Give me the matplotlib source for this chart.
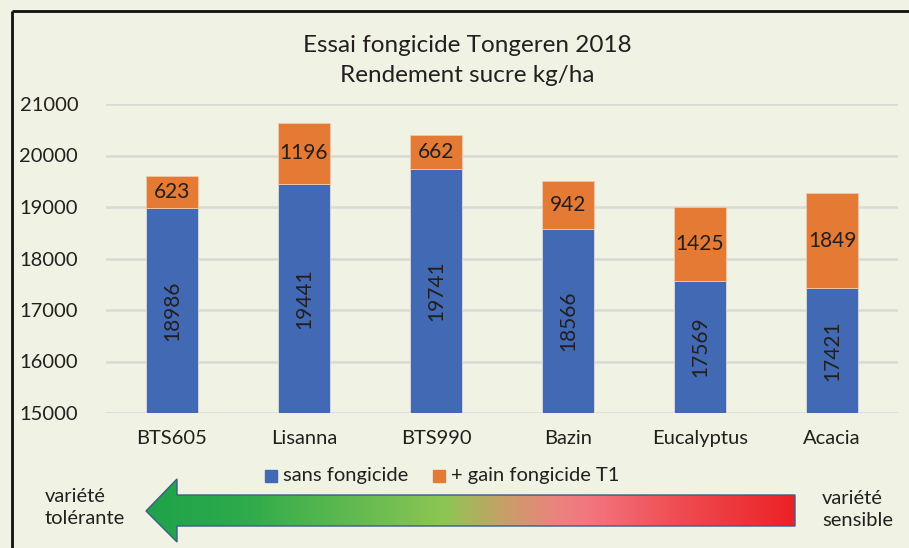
import matplotlib
matplotlib.use('Agg')
import matplotlib.pyplot as plt
import numpy as np
from matplotlib.colors import LinearSegmentedColormap
from matplotlib.patches import Polygon, Rectangle

plt.rcParams['font.family'] = ['Lato', 'DejaVu Sans']

# data
varietes = ['BTS605', 'Lisanna', 'BTS990', 'Bazin', 'Eucalyptus', 'Acacia']
sans_fongicide = [18986, 19441, 19741, 18566, 17569, 17421]
gain_t1 = [623, 1196, 662, 942, 1425, 1849]
yticks = [15000, 16000, 17000, 18000, 19000, 20000, 21000]

bg = '#F0F3E3'
blue = '#4169B4'
orange = '#E57A35'
txt = '#231F20'

W, H = 909, 548
fig = plt.figure(figsize=(W / 100, H / 100), dpi=100, facecolor=bg)

ax = fig.add_axes([106 / W, 1 - 413 / H, 792 / W, 309 / H])
ax.set_facecolor(bg)
x = np.arange(len(varietes))
ax.bar(x, sans_fongicide, width=0.4, color=blue, edgecolor='#D8DDE8', linewidth=0.6, zorder=3)
ax.bar(x, gain_t1, bottom=sans_fongicide, width=0.4, color=orange, edgecolor='#F2C9A8',
       linewidth=0.6, zorder=3)
ax.set_ylim(15000, 21000)
ax.set_xlim(-0.5, len(varietes) - 0.5)
ax.set_yticks(yticks)
ax.set_yticklabels([str(t) for t in yticks], fontsize=14.5, color=txt)
ax.set_xticks(x)
ax.set_xticklabels(varietes, fontsize=14.5, color=txt)
ax.tick_params(length=0, pad=20, axis='y')
ax.tick_params(length=0, pad=12, axis='x')
ax.grid(axis='y', color='#D9D9D6', linewidth=1.8, zorder=0)
for s in ax.spines.values():
    s.set_visible(False)

for i in range(len(varietes)):
    b = sans_fongicide[i]
    g = gain_t1[i]
    ax.text(i, (15000 + b) / 2, str(b), rotation=90, ha='center', va='center',
            fontsize=15, color=txt, zorder=4)
    ax.text(i, b + g / 2, str(g), ha='center', va='center', fontsize=15, color=txt, zorder=4)

# overlay in pixel coordinates
ov = fig.add_axes([0, 0, 1, 1], facecolor='none')
ov.set_xlim(0, W)
ov.set_ylim(H, 0)
ov.axis('off')

# frame
ov.plot([12, 12], [11, H], color='#111111', lw=2, solid_capstyle='butt')
ov.plot([12, W], [11, 11], color='#111111', lw=2, solid_capstyle='butt')

ov.text(467, 45, 'Essai fongicide Tongeren 2018', ha='center', va='center', fontsize=17.5, color=txt)
ov.text(467, 75, 'Rendement sucre kg/ha', ha='center', va='center', fontsize=17.5, color=txt)

# legend
ov.add_patch(Rectangle((265, 470), 12, 12, color=blue))
ov.text(283, 476, 'sans fongicide', va='center', ha='left', fontsize=14.5, color=txt)
ov.add_patch(Rectangle((433, 470), 12, 12, color=orange))
ov.text(451, 476, '+ gain fongicide T1', va='center', ha='left', fontsize=14.5, color=txt)

# gradient arrow
stops = [(0.0, '#1FA24A'), (0.15, '#2EAB4B'), (0.46, '#8DC653'), (0.55, '#C6A067'),
         (0.62, '#E7877A'), (0.68, '#F27780'), (0.82, '#EF4D52'), (1.0, '#EC2227')]
cmap = LinearSegmentedColormap.from_list('arrow', stops)
grad = np.linspace(0, 1, 400).reshape(1, -1)
pts = [(146, 511), (177, 479), (177, 495), (795, 495), (795, 526), (177, 526), (177, 542)]
arrow = Polygon(pts, closed=True, facecolor='none', edgecolor='#3A5E86', lw=1, zorder=3)
ov.add_patch(arrow)
im = ov.imshow(grad, cmap=cmap, extent=(146, 795, 542, 479), aspect='auto', zorder=2)
im.set_clip_path(arrow)
ov.set_xlim(0, W)
ov.set_ylim(H, 0)

ov.text(45, 496, 'variété', ha='left', va='center', fontsize=14.5, color=txt)
ov.text(45, 519, 'tolérante', ha='left', va='center', fontsize=14.5, color=txt)
ov.text(822, 498, 'variété', ha='left', va='center', fontsize=14.5, color=txt)
ov.text(822, 521, 'sensible', ha='left', va='center', fontsize=14.5, color=txt)

fig.savefig('out.png', dpi=100, facecolor=bg)
